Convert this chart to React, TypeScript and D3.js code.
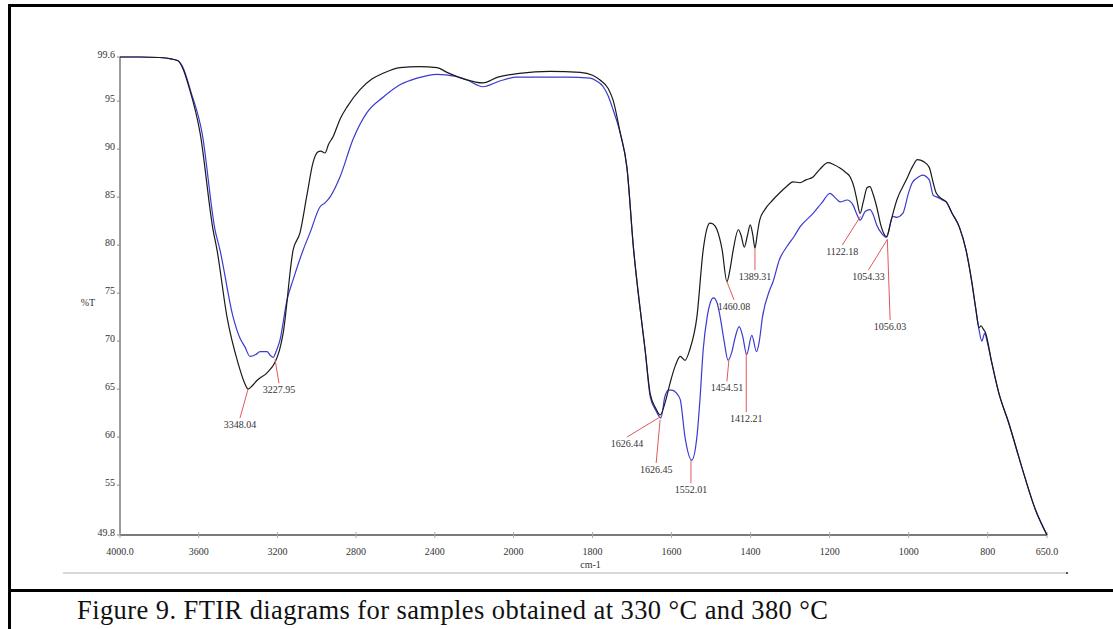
import React from "react";
import * as d3 from "d3";

// ---- data (wavenumber cm-1, %T) ----
const blackSeries: [number, number][] = [
  [4000, 99.6], [3900, 99.6], [3800, 99.55], [3740, 99.4], [3705, 99.2], [3685, 98.6], [3650, 96.5],
  [3593, 91.7], [3527, 81.6], [3507, 79.5], [3456, 72.5], [3400, 67.7], [3370, 65.8], [3349, 65.0],
  [3330, 65.3], [3304, 65.9], [3253, 66.7], [3212, 67.8], [3190, 69.0], [3171, 70.8], [3120, 79.5],
  [3085, 81.3], [3050, 85.2], [3019, 88.6], [2995, 89.7], [2980, 89.8], [2958, 89.6], [2940, 90.5],
  [2917, 91.3], [2880, 93.2], [2846, 94.4], [2780, 96.2], [2720, 97.3], [2663, 97.9], [2577, 98.5],
  [2480, 98.6], [2389, 98.5], [2338, 98.0], [2250, 97.3], [2155, 96.9], [2080, 97.5], [1985, 97.9],
  [1907, 98.1], [1831, 98.0], [1800, 97.7], [1781, 97.2], [1760, 96.3], [1748, 95.1], [1730, 91.7],
  [1713, 88.1], [1696, 79.5], [1680, 73.5], [1667, 69.1], [1654, 64.5], [1640, 63.0], [1629, 62.3],
  [1615, 63.8], [1604, 65.6], [1590, 67.5], [1578, 68.4], [1566, 68.0], [1554, 69.1], [1536, 72.5],
  [1520, 79.5], [1510, 81.8], [1503, 82.3], [1495, 82.2], [1485, 81.6], [1472, 79.5], [1460, 76.2],
  [1452, 77.5], [1444, 79.5], [1431, 81.6], [1424, 81.0], [1416, 79.8], [1408, 81.0], [1401, 82.1],
  [1395, 81.2], [1389, 79.7], [1383, 81.2], [1377, 82.6], [1364, 83.7], [1344, 84.7], [1330, 85.3],
  [1309, 86.1], [1293, 86.6], [1275, 86.5], [1260, 86.8], [1242, 87.1], [1225, 87.9], [1204, 88.6],
  [1190, 88.4], [1173, 88.0], [1160, 87.6], [1148, 87.1], [1138, 86.0], [1131, 84.7], [1123, 83.3],
  [1115, 84.5], [1105, 86.0], [1098, 86.1], [1090, 85.3], [1081, 84.0], [1070, 82.0], [1060, 81.0],
  [1056, 80.9], [1045, 82.5], [1030, 84.7], [1006, 86.8], [990, 88.2], [978, 88.9], [962, 88.7],
  [948, 88.1], [938, 86.5], [930, 85.4], [915, 84.8], [905, 84.5], [890, 83.3], [872, 81.9],
  [855, 79.5], [840, 76.1], [830, 73.3], [822, 71.4], [817, 71.6], [812, 71.3], [805, 70.8],
  [790, 67.8], [772, 64.6], [747, 61.5], [714, 56.9], [679, 52.4], [650, 49.8],
];

const blueSeries: [number, number][] = [
  [4000, 99.6], [3900, 99.6], [3800, 99.55], [3740, 99.4], [3705, 99.2], [3680, 98.5], [3640, 96.0],
  [3583, 91.7], [3517, 81.6], [3492, 79.5], [3425, 72.5], [3390, 70.3], [3365, 69.4], [3339, 68.4],
  [3310, 68.6], [3288, 68.9], [3253, 68.9], [3235, 68.5], [3222, 68.3], [3205, 69.0], [3187, 70.1],
  [3151, 74.3], [3120, 76.4], [3069, 79.5], [3034, 81.3], [2983, 84.0], [2958, 84.4], [2933, 85.0],
  [2882, 87.1], [2816, 91.0], [2745, 93.8], [2663, 95.4], [2577, 96.7], [2490, 97.4], [2389, 97.8],
  [2300, 97.6], [2236, 97.2], [2155, 96.5], [2070, 97.1], [1991, 97.5], [1865, 97.5], [1806, 97.4],
  [1790, 97.1], [1773, 96.5], [1760, 95.5], [1748, 94.1], [1730, 91.7], [1713, 88.1], [1696, 79.5],
  [1680, 73.5], [1667, 69.1], [1654, 64.2], [1640, 62.8], [1627, 62.0], [1617, 64.2], [1608, 64.9],
  [1599, 64.9], [1588, 64.6], [1578, 63.9], [1566, 60.0], [1549, 57.6], [1536, 60.0], [1528, 64.0],
  [1520, 69.1], [1510, 72.5], [1502, 74.0], [1494, 74.5], [1485, 74.0], [1477, 72.5], [1467, 70.0],
  [1457, 68.0], [1448, 68.8], [1439, 70.4], [1429, 71.5], [1420, 70.5], [1410, 68.6], [1397, 70.6],
  [1385, 68.9], [1378, 70.0], [1370, 72.5], [1352, 75.3], [1344, 76.1], [1327, 78.5], [1309, 79.8],
  [1290, 80.9], [1275, 81.9], [1242, 83.3], [1220, 84.4], [1199, 85.4], [1185, 84.9], [1173, 84.5],
  [1156, 84.7], [1141, 84.2], [1132, 83.3], [1123, 82.6], [1110, 83.5], [1098, 83.7], [1090, 83.2],
  [1081, 82.1], [1068, 81.2], [1056, 80.8], [1040, 83.0], [1030, 82.9], [1015, 83.3], [1000, 85.5],
  [991, 86.5], [975, 87.1], [965, 87.3], [948, 86.8], [938, 85.2], [928, 85.0], [915, 84.7],
  [905, 84.5], [890, 83.3], [872, 81.9], [855, 79.5], [840, 76.1], [830, 73.3], [822, 71.2],
  [815, 70.0], [812, 70.3], [808, 70.8], [800, 69.7], [790, 67.8], [772, 64.6], [747, 61.5],
  [714, 56.9], [679, 52.4], [650, 49.8],
];

const xTickValues = [4000, 3600, 3200, 2800, 2400, 2000, 1800, 1600, 1400, 1200, 1000, 800, 650];
const xTickLabels = ["4000.0", "3600", "3200", "2800", "2400", "2000", "1800", "1600", "1400", "1200", "1000", "800", "650.0"];
const yTickValues = [99.6, 95, 90, 85, 80, 75, 70, 65, 60, 55, 49.8];
const yTickLabels = ["99.6", "95", "90", "85", "80", "75", "70", "65", "60", "55", "49.8"];

// peak annotations: anchor (wn, T) -> leader end (wn, T)
const peakLabels = ["3348.04", "3227.95", "1626.44", "1626.45", "1552.01", "1454.51", "1412.21", "1460.08", "1389.31", "1122.18", "1054.33", "1056.03"];
const peakAnchorWn = [3349, 3212, 1629, 1629, 1551, 1455, 1411, 1460, 1389, 1122, 1054, 1054];
const peakAnchorT = [65.0, 68.1, 62.1, 61.8, 57.6, 68.0, 68.8, 76.2, 79.7, 83.0, 80.6, 80.6];
const peakEndWn = [3390, 3192, 1713, 1639, 1551, 1460, 1411, 1442, 1389, 1168, 1102, 1047];
const peakEndT = [62.0, 65.6, 60.0, 57.3, 55.2, 65.8, 62.6, 74.3, 77.4, 80.0, 77.4, 72.2];

const captionText = "Figure 9. FTIR diagrams for samples obtained at 330 °C and 380 °C";

export default function App() {
  const W = 1113, H = 629;
  const x = d3.scaleLinear().domain([4000, 2000, 650]).range([120, 513.5, 1047]);
  const y = d3.scaleLinear().domain([49.8, 99.6]).range([535, 57]);
  const line = d3
    .line<[number, number]>()
    .x((d) => x(d[0]))
    .y((d) => y(d[1]))
    .curve(d3.curveMonotoneX);

  const tickFont = "'Liberation Serif', 'Times New Roman', serif";

  return (
    <svg width={W} height={H} style={{ position: "absolute", left: 0, top: 0, background: "#fff" }}>
      <rect x={0} y={0} width={W} height={H} fill="#fff" />
      {/* figure frame */}
      <line x1={9.5} y1={4} x2={9.5} y2={H} stroke="#000" strokeWidth={3} />
      <line x1={8} y1={5.5} x2={W} y2={5.5} stroke="#000" strokeWidth={3} />
      <line x1={8} y1={590.5} x2={W} y2={590.5} stroke="#000" strokeWidth={3} />

      {/* window bottom line */}
      <line x1={63} y1={573} x2={1068} y2={573} stroke="#d8d8d8" strokeWidth={2} />
      <rect x={1066} y={572} width={2} height={2} fill="#555" />

      {/* axes */}
      <line x1={x(4000)} y1={y(99.6)} x2={x(4000)} y2={y(49.8)} stroke="#7a7a7a" strokeWidth={1.5} />
      <line x1={x(4000)} y1={y(49.8)} x2={x(650)} y2={y(49.8)} stroke="#7a7a7a" strokeWidth={2} />

      {yTickValues.map((v, i) => (
        <g key={"yt" + i}>
          <line x1={x(4000) - 3} x2={x(4000)} y1={y(v)} y2={y(v)} stroke="#888" strokeWidth={1} />
          <text x={x(4000) - 5} y={y(v) + 1} textAnchor="end" fontFamily={tickFont} fontSize={10} fill="#333">
            {yTickLabels[i]}
          </text>
        </g>
      ))}
      {xTickValues.map((v, i) => (
        <g key={"xt" + i}>
          <line x1={x(v)} x2={x(v)} y1={y(49.8) - 3} y2={y(49.8) + 3} stroke="#aaa" strokeWidth={1} />
          <text x={x(v)} y={555} textAnchor="middle" fontFamily={tickFont} fontSize={10} fill="#333">
            {xTickLabels[i]}
          </text>
        </g>
      ))}
      <text x={88} y={306} textAnchor="middle" fontFamily={tickFont} fontSize={10} fill="#333">%T</text>
      <text x={x(1800) - 2} y={568} textAnchor="middle" fontFamily={tickFont} fontSize={10} fill="#333">cm-1</text>

      {/* spectra */}
      <path d={line(blueSeries) || ""} fill="none" stroke="#3a3ad0" strokeWidth={1.2} />
      <path d={line(blackSeries) || ""} fill="none" stroke="#1a1a1a" strokeWidth={1.2} />

      {/* peak annotations */}
      {peakLabels.map((lab, i) => {
        const x1 = x(peakAnchorWn[i]), y1 = y(peakAnchorT[i]);
        const x2 = x(peakEndWn[i]), y2 = y(peakEndT[i]);
        return (
          <g key={"pk" + i}>
            <line x1={x1} y1={y1} x2={x2} y2={y2} stroke="#e05a5a" strokeWidth={1} />
            <text x={x2} y={y2 + 10} textAnchor="middle" fontFamily={tickFont} fontSize={10} fill="#333">
              {lab}
            </text>
          </g>
        );
      })}

      {/* caption */}
      <text x={77} y={619} fontFamily="'Liberation Serif', 'Times New Roman', serif" fontSize={26.5} fill="#111"
        textLength={751} lengthAdjust="spacing">
        {captionText}
      </text>
    </svg>
  );
}
